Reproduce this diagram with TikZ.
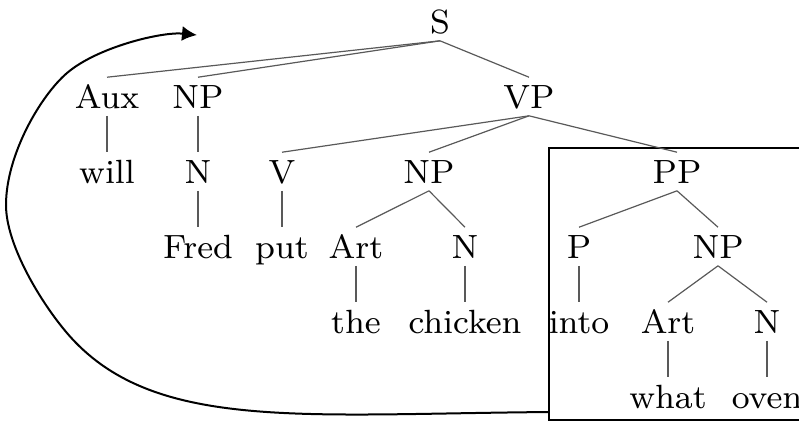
\documentclass[tikz,border=0pt]{standalone}
\usetikzlibrary{arrows.meta}
\begin{document}
\begin{tikzpicture}[x=0.25pt,y=-0.25pt,
  tn/.style={inner sep=0pt,text height=7.5pt,text depth=1.75pt,anchor=base,font=\fontsize{8.4}{10}\selectfont},
  br/.style={draw=black!65,line width=0.3pt},
  frame/.style={draw=black,line width=0.5pt},
  mv/.style={draw=black,line width=0.5pt,-{Latex[length=3.75pt,width=3.75pt]}}]
\clip (0,0) rectangle (799,422);
% box around PP
\coordinate (boxnw) at (549,148);
\coordinate (boxse) at (815,420);
\draw[frame] (boxnw) rectangle (boxse);
% nodes
\node[tn] (S) at (440,33) {S};
\node[tn] (Aux) at (107,108) {Aux};
\node[tn] (NPa) at (198,108) {NP};
\node[tn] (VP) at (529,108) {VP};
\node[tn] (will) at (107,183) {will};
\node[tn] (Na) at (198,183) {N};
\node[tn] (V) at (282,183) {V};
\node[tn] (NPb) at (429,183) {NP};
\node[tn] (PP) at (677,183) {PP};
\node[tn] (Fred) at (198,258) {Fred};
\node[tn] (put) at (282,258) {put};
\node[tn] (Arta) at (356,258) {Art};
\node[tn] (Nb) at (465,258) {N};
\node[tn] (P) at (579,258) {P};
\node[tn] (NPc) at (718,258) {NP};
\node[tn] (the) at (356,333) {the};
\node[tn] (chicken) at (465,333) {chicken};
\node[tn] (into) at (579,333) {into};
\node[tn] (Artb) at (668,333) {Art};
\node[tn] (Nc) at (767,333) {N};
\node[tn] (what) at (668,408) {what};
\node[tn] (oven) at (767,408) {oven};
% branches
\draw[br] (S.south) -- (Aux.north);
\draw[br] (S.south) -- (NPa.north);
\draw[br] (S.south) -- (VP.north);
\draw[br] (Aux.south) -- (will.north);
\draw[br] (NPa.south) -- (Na.north);
\draw[br] (Na.south) -- (Fred.north);
\draw[br] (VP.south) -- (V.north);
\draw[br] (VP.south) -- (NPb.north);
\draw[br] (VP.south) -- (PP.north);
\draw[br] (V.south) -- (put.north);
\draw[br] (NPb.south) -- (Arta.north);
\draw[br] (NPb.south) -- (Nb.north);
\draw[br] (Arta.south) -- (the.north);
\draw[br] (Nb.south) -- (chicken.north);
\draw[br] (PP.south) -- (P.north);
\draw[br] (PP.south) -- (NPc.north);
\draw[br] (P.south) -- (into.north);
\draw[br] (NPc.south) -- (Artb.north);
\draw[br] (NPc.south) -- (Nc.north);
\draw[br] (Artb.south) -- (what.north);
\draw[br] (Nc.south) -- (oven.north);
% movement arrow
\coordinate (cstart) at (549,412);
\coordinate (cend) at (197,35);
\draw[mv] (cstart) .. controls (300,414) and (151.5,431.8) .. (67,333)
  .. controls (41,302.6) and (6,245) .. (6,205)
  .. controls (6,155) and (40.4,95.8) .. (67,73)
  .. controls (97.4,47) and (162,31.5) .. (cend);
\end{tikzpicture}
\end{document}
